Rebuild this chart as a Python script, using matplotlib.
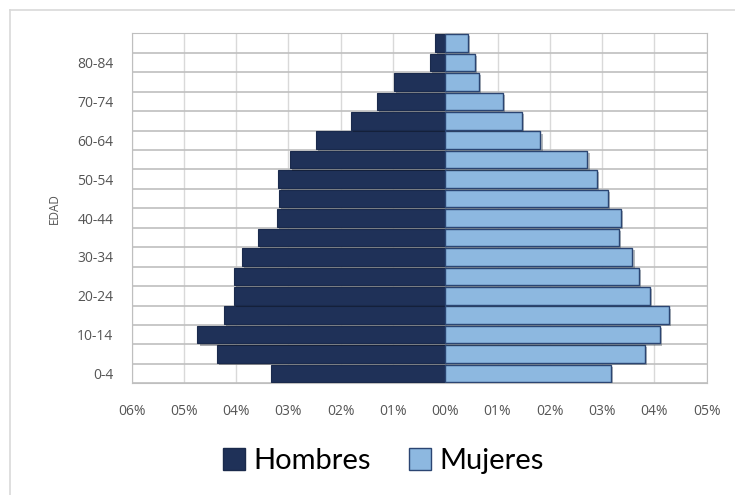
import matplotlib.pyplot as plt
import matplotlib.patheffects as pe
from matplotlib.patches import Patch

# Grupos de edad (de abajo hacia arriba)
edades = ["0-4", "5-9", "10-14", "15-19", "20-24", "25-29", "30-34", "35-39",
          "40-44", "45-49", "50-54", "55-59", "60-64", "65-69", "70-74",
          "75-79", "80-84", "85+"]
# Porcentajes
hombres = [3.33, 4.36, 4.74, 4.24, 4.04, 4.04, 3.88, 3.59, 3.22, 3.18,
           3.19, 2.97, 2.48, 1.80, 1.31, 0.99, 0.29, 0.20]
mujeres = [3.17, 3.82, 4.10, 4.27, 3.92, 3.71, 3.58, 3.33, 3.36, 3.12,
           2.90, 2.72, 1.82, 1.47, 1.10, 0.64, 0.57, 0.43]
ticks_x = [-6, -5, -4, -3, -2, -1, 0, 1, 2, 3, 4, 5]

color_h = "#1F3158"
color_m = "#8DB8E0"
gris_txt = "#555555"

plt.rcParams['font.family'] = ['Open Sans', 'DejaVu Sans']

fig = plt.figure(figsize=(7.35, 4.95), dpi=100)
ax = fig.add_axes([0.179, 0.2257, 0.7825, 0.707])

y = list(range(len(edades)))
sombra = [pe.SimplePatchShadow(offset=(1.5, -1.5), alpha=0.35), pe.Normal()]
bh = ax.barh(y, [-v for v in hombres], height=0.9, color=color_h,
             edgecolor="#1A2A4C", linewidth=0.8, zorder=3)
bm = ax.barh(y, mujeres, height=0.9, color=color_m,
             edgecolor="#2B4572", linewidth=1.0, zorder=3)
for b in list(bh) + list(bm):
    b.set_path_effects(sombra)

ax.set_xlim(-6, 5)
ax.set_ylim(-0.5, len(edades) - 0.5)

# rejilla
for t in ticks_x:
    ax.axvline(t, color="#D9D9D9", linewidth=1.0, zorder=1)
for k in range(len(edades) + 1):
    ax.axhline(k - 0.5, color="#BFBFBF", linewidth=1.2, zorder=1)

ax.set_xticks(ticks_x)
ax.set_xticklabels(["%02d%%" % abs(t) for t in ticks_x], color=gris_txt, fontsize=10)
ax.set_yticks(y[::2])
ax.set_yticklabels(edades[::2], color=gris_txt, fontsize=10)
ax.tick_params(length=0)
ax.tick_params(axis="x", pad=15)
ax.tick_params(axis="y", pad=13)
for s in ax.spines.values():
    s.set_color("#BFBFBF")
ax.set_ylabel("EDAD", color=gris_txt, fontsize=8.5, labelpad=12)

leg = fig.legend(handles=[Patch(facecolor=color_h, edgecolor="#1A2A4C", label="Hombres"),
                          Patch(facecolor=color_m, edgecolor="#2B4572", label="Mujeres")],
                 loc="center", bbox_to_anchor=(0.522, 0.068), ncol=2, frameon=False,
                 prop={"family": "Lato", "size": 21}, handlelength=0.75, handleheight=0.75,
                 handletextpad=0.3, columnspacing=1.3)

# borde del area del grafico
fig.add_artist(plt.Line2D([0.0136, 1.0], [0.98, 0.98], color="#D9D9D9", linewidth=1.2))
fig.add_artist(plt.Line2D([0.0136, 0.0136], [0.0, 0.98], color="#D9D9D9", linewidth=1.2))

fig.savefig("out.png", dpi=100)
